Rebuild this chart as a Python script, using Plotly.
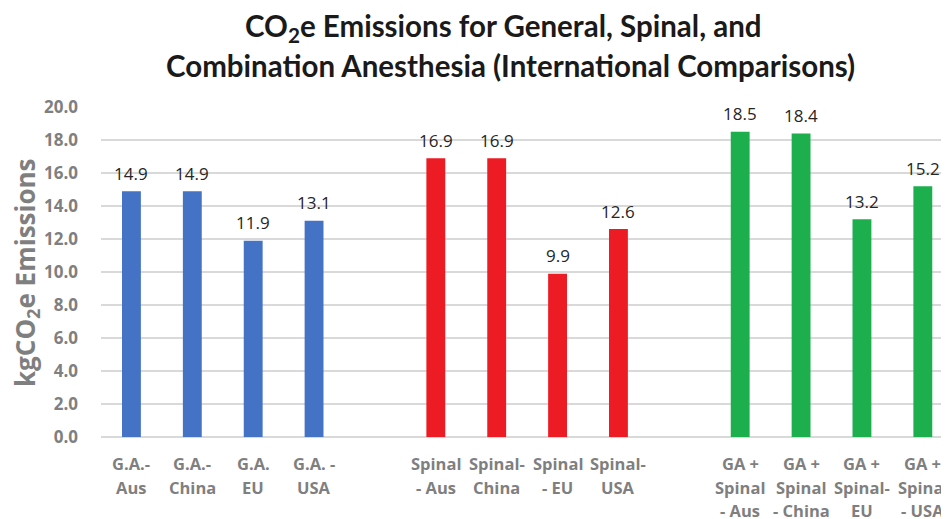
import plotly.graph_objects as go

categories = ["G.A.-<br>Aus", "G.A.-<br>China", "G.A.<br>EU", "G.A. -<br>USA", " ",
              "Spinal<br>- Aus", "Spinal-<br>China", "Spinal<br>- EU", "Spinal-<br>USA", "  ",
              "GA +<br>Spinal<br>- Aus", "GA +<br>Spinal<br>- China", "GA +<br>Spinal-<br>EU", "GA +<br>Spinal<br>- USA"]
ga_labels = categories[0:4]
spinal_labels = categories[5:9]
combo_labels = categories[10:14]
ga_values = [14.9, 14.9, 11.9, 13.1]
spinal_values = [16.9, 16.9, 9.9, 12.6]
combo_values = [18.5, 18.4, 13.2, 15.2]
y_ticks = [0, 2, 4, 6, 8, 10, 12, 14, 16, 18, 20]
title_lines = ["CO<sub>2</sub>e Emissions for General, Spinal, and",
               "Combination Anesthesia (International Comparisons)"]

OFF = 8  # page body margin offset
W, H = 949, 519
# desired screen positions of plot area
SL, ST, SR, SB = 101, 107, 949, 437
L, T = SL - OFF, ST - OFF
R = W - (SR - OFF)
B = H - (SB - OFF)
PW, PH = W - L - R, H - T - B

def px_x(px):
    return (px - OFF - L) / PW

def px_y(py):
    return (H - B - (py - OFF)) / PH

fig = go.Figure()
annotations = []
for labels, vals, color in [(ga_labels, ga_values, "#4472C4"),
                            (spinal_labels, spinal_values, "#ED1C24"),
                            (combo_labels, combo_values, "#1DAF4E")]:
    fig.add_trace(go.Bar(
        x=labels, y=vals, marker=dict(color=color, line=dict(width=0)),
        width=0.31, showlegend=False, hoverinfo="x+y"))
    for lab, v in zip(labels, vals):
        annotations.append(dict(
            text=f"{v:.1f}", x=lab, y=v, xref="x", yref="y", yshift=18,
            xanchor="center", yanchor="middle", showarrow=False,
            font=dict(family="Open Sans, sans-serif", size=17, color="#262626")))

line_y = [463, 487, 510]
for cat in categories:
    if not cat.strip():
        continue
    for i, part in enumerate(cat.split("<br>")):
        annotations.append(dict(
            text=part, x=cat, y=px_y(line_y[i]), xref="x", yref="paper",
            xanchor="center", yanchor="middle", showarrow=False,
            font=dict(family="Open Sans, sans-serif", size=16.5, color="#7F7F7F", weight="bold")))

annotations += [
    dict(text="kgCO<sub>2</sub>e Emissions", textangle=-90, xref="paper", yref="paper",
         x=px_x(26), y=px_y(273), xanchor="center", yanchor="middle", showarrow=False,
         font=dict(family="Open Sans, sans-serif", size=26, color="#7F7F7F", weight="bold")),
    dict(text=title_lines[0], xref="paper", yref="paper", x=px_x(503), y=px_y(28),
         xanchor="center", yanchor="middle", showarrow=False,
         font=dict(family="Lato, sans-serif", size=29.5, color="#1a1a1a", weight="bold")),
    dict(text=title_lines[1], xref="paper", yref="paper", x=px_x(510), y=px_y(66),
         xanchor="center", yanchor="middle", showarrow=False,
         font=dict(family="Lato, sans-serif", size=29.5, color="#1a1a1a", weight="bold")),
]

fig.update_layout(
    width=W, height=H,
    margin=dict(l=L, r=R, t=T, b=B, autoexpand=False),
    paper_bgcolor="white", plot_bgcolor="white",
    barmode="overlay",
    xaxis=dict(categoryorder="array", categoryarray=categories, range=[-0.5, 13.43],
               showticklabels=False, showline=False, ticks="", showgrid=False, automargin=False),
    yaxis=dict(range=[0, 20], tickvals=y_ticks, tickformat=".1f",
               tickfont=dict(family="Open Sans, sans-serif", size=17, color="#7F7F7F", weight="bold"),
               gridcolor="#D9D9D9", gridwidth=1.5, zeroline=True, zerolinecolor="#D9D9D9",
               zerolinewidth=1.5, ticklabelstandoff=22, showline=False, automargin=False),
    annotations=annotations,
)

fig.write_html("out.html")
